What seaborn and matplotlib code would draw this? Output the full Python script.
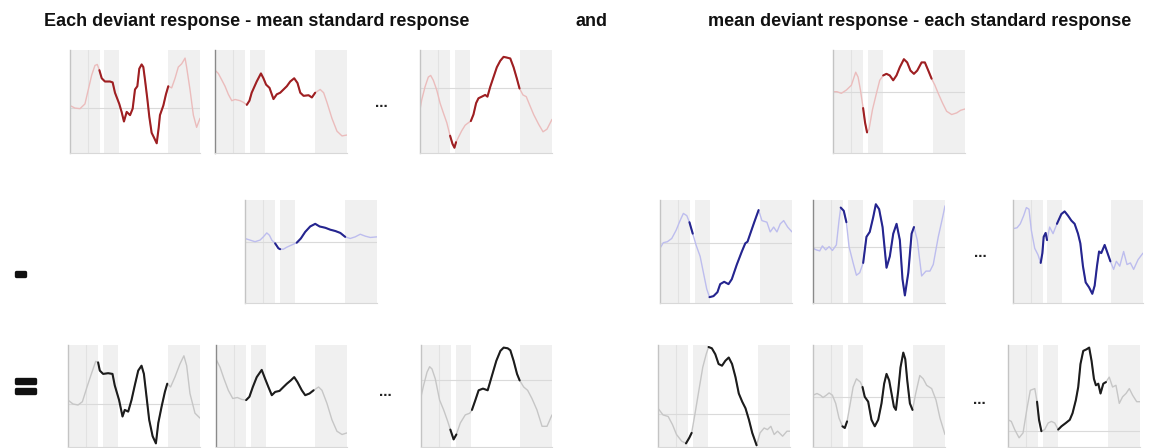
import matplotlib
matplotlib.use("Agg")
import matplotlib.pyplot as plt
import matplotlib.patheffects as pe
import seaborn as sns
import pandas as pd
import numpy as np

# ---------------- data (time in % of epoch, amplitude in % of panel range) ----------------
dev1_t = [0,3.8,7.7,11.5,14.1,16.7,19.2,21,22.6,24.4,26.9,30.8,32.8,34.6,37.9,39.7,41.5,43.6,46.2,48.2,50,51.8,53.3,55.1,56.4,57.7,59.5,61,62.8,64.6,66.7,68.2,69.2,71.8,73.8,75.6,78.2,80.8,83.3,85.9,88.5,89.7,92.3,94.9,97.4,100]
dev1_v = [46,43.5,42.9,47.6,61.9,76.2,85.7,86.7,81,73,69.8,69.8,68.9,58.7,47.6,39.7,30.2,39.7,36.5,42.9,61.9,65.1,82.5,86.7,84.1,71.4,52.4,34.9,19,14.3,8.6,23.8,36.5,46,57.1,65.1,63.5,73,84.1,87.3,93,84.1,61.9,36.5,24.4,33.3]
dev1_win = [(22.6, 75.6)]

dev2_t = [0,2.5,5.1,7.6,10.1,12.7,15.2,19,21.5,24.1,26.1,27.8,31.6,34.8,36.7,38.7,41.3,44.3,46.8,49.4,51.9,54.4,57,60,62.5,64.6,67.1,70.9,73.4,75.9,79.7,82.3,84.8,88.6,92.4,96.2,100]
dev2_v = [81,77.8,71.4,65.1,57.1,50.8,52,50.8,49.2,46.7,50.8,58.7,69.8,77.8,73,66.7,63.5,52.4,57.1,58.7,61.9,65.1,69.8,73,68.3,58.7,55.6,56.2,54,58.7,61.9,58.7,49.2,33.3,20.6,15.9,16.8]
dev2_win = [(24.0, 76.0)]

dev3_t = [0,1.3,3.8,6.3,8.1,10.1,12.7,15.2,17.7,20.3,22.8,24.6,26.1,27.3,29.1,31.6,34.2,36.7,38.5,40.5,42.5,44.3,46.8,49.4,51.1,53.2,55.7,58.2,60.8,63.3,65.8,68.4,70.9,73.4,75.4,78,80.5,83,86.1,89.9,93.2,96.2,100]
dev3_v = [41.9,51.6,64.5,74.2,75.8,71,61.3,48.4,38.7,29,16.1,8.1,4.2,9.7,14.5,21,26.5,29,30.6,37.1,48.4,53.2,54.8,56.5,54.8,64.5,74.2,83.9,90.3,94.2,93.5,92.6,83.9,72.6,62.9,56.5,54.8,46.8,37.1,27.4,20,22.6,32.3]
dev3_win = [(22.8, 27.3), (38.5, 75.4)]

devm_t = [0,3,6.3,10.1,13.9,17.2,19,20.8,22.8,24.3,25.8,27.3,29.9,32.9,35.4,38,40.5,43,45.6,48.1,50.6,53.7,56.2,58.7,61.3,63.8,67.1,69.6,72.2,74.7,77.2,79.7,83,86.1,89.9,93.7,96.7,100]
devm_v = [59.7,59.7,58.1,61.3,66.1,79,74.2,61.3,43.5,29,19.4,22.6,41.9,58.1,71,75.8,77.4,75.8,71,75.8,83.9,91.9,88.7,80.6,77.4,80.6,88.7,88.7,80.6,72.6,66.1,58.1,48.4,40.3,37.1,38.7,41.3,42.6]
devm_win = [(22.8, 25.8), (38.0, 74.7)]

stdm_t = [0,3.8,7.6,11.4,13.9,16.5,18.5,20.3,22.8,25.3,26.6,29.1,31.6,35.4,39.2,42.3,45.6,49.4,53.2,56.5,60.8,64.6,68.4,72.2,75.9,79.7,83.5,87.3,91.1,94.9,100]
stdm_v = [62.9,61.3,59.7,61.3,64.5,68.4,66.1,61.3,58.1,53.2,52.3,52.3,54.2,56.5,58.7,62.9,69.4,74.8,77.4,74.8,73.5,71.6,70.3,68.4,64.5,62.9,64.5,67.1,65.2,63.9,64.5]
stdm_win = [(22.8, 26.6), (39.2, 75.9)]

std1_t = [0,2.5,5.6,8.9,12.2,15.2,17.7,20.3,22.3,24.8,27.3,30.4,32.9,35.4,37.5,40.5,43.5,45.6,48.6,51.9,54.4,58.2,62,64.6,66.3,68.4,71.4,74.7,77.2,81,83.5,86.1,88.6,91.1,93.7,96.7,100]
std1_v = [53.2,58.7,59.7,62.9,71,80.6,87.7,85.5,79,67.7,56.5,45.2,29,12.9,4.8,5.8,9.7,17.7,20,17.7,22.6,37.1,50,58.1,59.7,67.7,79,91,80.6,79,69.4,74.2,69.4,77.4,80.6,74.2,69.4]
std1_win = [(22.3, 24.8), (37.5, 74.7)]

std2_t = [0,2.5,5.1,7.1,9.6,12.2,14.7,17.7,19.7,21,23.3,25.3,27.3,30.4,32.9,35.4,38,40.5,43,45.6,47.6,50.1,52.7,55.7,58.2,60.8,63.3,65.8,67.8,69.6,72.2,74.7,76.5,79,82.3,85.6,88.6,91.1,94.9,98.2,100]
std2_v = [53.2,51.6,50.6,55.5,51.6,54.8,51,56.5,80.6,93.5,90.3,79,54.8,38.7,26.5,29,38.7,64.5,69.4,83.9,96.8,91.9,74.2,33.9,45.2,67.7,77.4,61.3,22.6,6.5,29,67.7,74.2,61.3,25.8,30.6,30.6,37.1,64.5,83.9,95.2]
std2_win = [(21.0, 26.0), (38.0, 76.5)]

std3_t = [0,3.1,5.6,8.2,10.3,12.3,14.1,16.7,19.2,21.3,22.6,23.6,25.1,26.2,28.2,30.8,33.8,37.2,39.7,42.3,44.9,47.4,50,51.8,53.8,55.9,58.5,61,62.8,64.6,66.2,67.9,70.5,72.3,74.9,77.4,79.5,82.1,85.1,87.7,90.3,92.8,96.2,100]
std3_v = [72.6,73.5,77.4,85.5,93.5,91.9,71,53.2,46.8,38.7,48.4,64.5,68.4,61.3,74.2,67.7,77.4,87.1,89.7,85.5,80.6,77.4,67.7,58.1,35.5,19.4,14.5,8.1,16.1,35.5,50,48.4,56.5,50,40.3,32.3,40.3,35.5,50,37.1,38.7,32.3,41.9,48.4]
std3_win = [(21.3, 26.2), (33.8, 74.9)]

dif1_t = [0,3.8,7.6,10.9,14.4,17.7,21,22.8,24.1,26.6,30.4,33.7,35.4,38.7,41.3,43,45.6,48.1,50.6,53.2,55.7,57.5,59.5,61.5,64.1,66.6,68.4,70.9,73.4,75.2,77.7,81,84.8,87.8,89.9,92.4,96.2,100]
dif1_v = [45.9,42,41,44.3,59,72.1,84.6,83.6,75.4,72.1,72.8,72.1,60.7,45.9,29.5,36.1,34.4,45.9,60.7,75.4,80.3,72.1,49.2,26.2,9.8,2.6,23,39.3,54.1,62.3,59,68.9,82,90.2,80.3,52.5,32.8,27.9]
dif1_win = [(22.8, 75.2)]

dif2_t = [0,3.1,6.1,9.4,12.8,16.3,19.6,23,25.5,28.1,31.1,34.9,37.5,40,42.6,45.2,48.5,51.5,54.1,57.1,59.7,62.2,65.5,68.1,71.4,74.5,78.3,80.9,84.7,88.5,92.3,96.2,100]
dif2_v = [86.9,78.7,67.2,55.7,47.5,48.5,46.6,45.9,49.2,59,68.9,76.1,67.2,59,50.8,54.1,55.1,59,62.3,65.6,68.9,63.9,55.7,50.8,52.5,55.7,59,55.7,42.6,26.2,14.8,11.5,13.1]
dif2_win = [(23.0, 74.5)]

dif3_t = [0,2,4.6,6.6,8.4,10.9,14.2,17.3,20.4,22.4,24.9,27,30,33.8,37.2,38.9,41.5,44,47.3,50.9,54.2,57.5,60.6,63.1,66.2,68.2,70.7,73.3,75.3,78.4,81.4,84.7,88.5,92.4,96.2,100]
dif3_v = [49.2,60.7,73.8,79.3,77,67.2,45.9,36.1,24.6,16.4,6.6,11.5,23,31.1,32.8,36.1,45.9,55.7,57.4,55.7,70.5,85.2,95.1,98.4,97.7,95.7,85.2,72.1,65.6,59,55.7,47.5,36.1,19.7,19.7,31.1]
dif3_win = [(22.4, 27.0), (38.9, 75.3)]

difr1_t = [0,3.8,7.7,11,14,17.9,21.2,23.7,25.5,28.1,31.4,33.9,36.5,38.3,40.8,43.4,45.9,48.5,51,53.6,56.1,58.7,61.2,63.8,66.3,68.9,71.4,74.7,77.3,80.4,82.9,85.5,88,90.6,94.4,97.7,100]
difr1_v = [37.7,31.1,29.5,21.3,11.5,4.9,2.6,8.2,13.1,32.8,59,78.7,91.8,99,97.7,91.8,82,80.3,85.2,88.5,82,68.9,52.5,44.3,37.7,26.2,13.1,0.7,13.1,18,16.4,19.7,11.5,14.8,9.8,14.8,14.8]
difr1_win = [(21.2, 25.5), (38.3, 74.7)]

difr2_t = [0,3,5.6,7.6,10.1,12.2,14.7,17.2,19.7,22.3,24.1,25.8,27.8,30.4,32.9,35.9,37.5,39.2,41.8,44.3,46.8,49.4,51.9,53.9,55.7,57.7,59.5,61.3,62.8,64.6,66.3,68.4,69.9,71.4,73.4,75.4,77.8,80.9,83.5,86.1,89.9,93.2,96.2,100]
difr2_v = [50.8,52.5,50.8,48.5,50.8,53.1,50.8,42.6,27.9,19.7,18,24.6,39.3,59,67.2,63.9,59,49.2,44.3,26.2,19.7,26.2,42.6,62.3,72.1,65.6,52.5,39.3,36.1,55.7,78.7,93.4,86.9,65.6,42.6,36.1,52.5,70.5,67.2,60.7,57.4,45.9,27.9,11.5]
difr2_win = [(22.3, 25.8), (37.5, 75.4)]

difr3_t = [0,2.5,5.1,8.4,11.4,14.4,16.9,20.3,22,23.5,25.3,27.8,30.4,32.9,35.4,38,40.5,43.8,46.8,48.9,51.4,53.2,54.9,57,59.5,61.5,63.3,65.1,66.6,68.4,70.1,72.2,74.2,76.7,79.2,81.8,84.3,86.8,89.4,91.9,94.4,97.5,100]
difr3_v = [26.2,24.6,16.4,8.2,13.1,37.7,55.7,57.4,44.3,26.2,14.8,16.4,23,24.6,23,16.4,19.7,23,26.2,32.8,45.9,59,82,95.1,96.7,98.4,85.2,67.2,60.7,62.3,52.5,62.3,63.9,68.9,59,60.7,42.6,49.2,52.5,57.4,50.8,44.3,44.3]
difr3_win = [(22.0, 25.3), (38.0, 74.2)]

# baselines (zero level), None = not visible
baselines = {"dev1": 43.8, "dev2": None, "dev3": 62.9, "devm": 59.7,
             "stdm": 59.7, "std1": 58.7, "std2": 54.8, "std3": None,
             "dif1": 42.0, "dif2": None, "dif3": 65.6,
             "difr1": 32.1, "difr2": 49.2, "difr3": 14.8}

# shaded analysis windows (time %)
shade_windows = [(0, 22.7), (26.5, 38.0), (75.6, 100)]
shade_marker = 13.8

titles = ["Each deviant response - mean standard response", "and",
          "mean deviant response - each standard response"]

# ---------------- styling ----------------
W, H = 1173, 448
sns.set_theme(style="white")
plt.rcParams['font.family'] = ['Liberation Sans', 'DejaVu Sans']

RED = ("#9e1f22", "#ebbcbc")
BLUE = ("#25258f", "#bdbdee")
BLACK = ("#1c1c1c", "#c6c6c6")

fig = plt.figure(figsize=(W / 100, H / 100), dpi=100)

def px_axes(x0, y0, x1, y1):
    return fig.add_axes([x0 / W, 1 - y1 / H, (x1 - x0) / W, (y1 - y0) / H])

def panel(rect, t, v, win, base, colors, left_col="#c4c4c4"):
    ax = px_axes(*rect)
    for a, b in shade_windows:
        ax.axvspan(a, b, color="#f0f0f0", lw=0, zorder=0)
    ax.axvline(shade_marker, color="#e2e2e2", lw=0.8, zorder=0.5)
    if base is not None:
        ax.axhline(base, color="#dadada", lw=0.8, zorder=0.6)
    df = pd.DataFrame({"t": t, "v": v})
    sns.lineplot(data=df, x="t", y="v", ax=ax, color=colors[1], lw=1.0,
                 estimator=None, sort=False, zorder=2)
    for a, b in win:
        seg = df[(df.t >= a - 1e-6) & (df.t <= b + 1e-6)]
        sns.lineplot(data=seg, x="t", y="v", ax=ax, color=colors[0], lw=1.5,
                     estimator=None, sort=False, zorder=3)
    ax.set_xlim(0, 100)
    ax.set_ylim(-1, 101)
    ax.set_xticks([]); ax.set_yticks([])
    ax.set_xlabel(""); ax.set_ylabel("")
    ax.patch.set_alpha(0)
    for s in ("top", "right"):
        ax.spines[s].set_visible(False)
    ax.spines["left"].set_color(left_col)
    ax.spines["left"].set_linewidth(1.0)
    ax.spines["bottom"].set_color("#d8d8d8")
    ax.spines["bottom"].set_linewidth(0.8)
    return ax

# row 1 (deviants, red)
panel((70, 50, 200, 153), dev1_t, dev1_v, dev1_win, baselines["dev1"], RED)
panel((215, 50, 347, 153), dev2_t, dev2_v, dev2_win, baselines["dev2"], RED, "#8a8a8a")
panel((420, 50, 552, 153), dev3_t, dev3_v, dev3_win, baselines["dev3"], RED)
panel((833, 50, 965, 153), devm_t, devm_v, devm_win, baselines["devm"], RED)

# row 2 (standards, blue)
panel((245, 200, 377, 303), stdm_t, stdm_v, stdm_win, baselines["stdm"], BLUE)
panel((660, 200, 792, 303), std1_t, std1_v, std1_win, baselines["std1"], BLUE)
panel((813, 200, 945, 303), std2_t, std2_v, std2_win, baselines["std2"], BLUE, "#8a8a8a")
panel((1013, 200, 1143, 303), std3_t, std3_v, std3_win, baselines["std3"], BLUE)

# row 3 (differences, black)
panel((68, 345, 200, 447), dif1_t, dif1_v, dif1_win, baselines["dif1"], BLACK)
panel((216, 345, 347, 447), dif2_t, dif2_v, dif2_win, baselines["dif2"], BLACK, "#8a8a8a")
panel((421, 345, 552, 447), dif3_t, dif3_v, dif3_win, baselines["dif3"], BLACK)
panel((658, 345, 790, 447), difr1_t, difr1_v, difr1_win, baselines["difr1"], BLACK)
panel((813, 345, 945, 447), difr2_t, difr2_v, difr2_win, baselines["difr2"], BLACK)
panel((1008, 345, 1140, 447), difr3_t, difr3_v, difr3_win, baselines["difr3"], BLACK)

def ftext(x, y, s, **kw):
    fig.text(x / W, 1 - y / H, s, ha="center", va="center", **kw)

ftext(257, 21, titles[0], fontsize=13, fontweight="bold", color="#111111")
ftext(591, 21, titles[1], fontsize=13, fontweight="bold", color="#111111")
ftext(920, 21, titles[2], fontsize=13, fontweight="bold", color="#111111")

for (x, y) in [(381, 103), (980, 253), (385, 392), (979, 400)]:
    ftext(x, y, "...", fontsize=11, fontweight="bold", color="#222222")

thick = [pe.withStroke(linewidth=2.4, foreground="#111111")]
ftext(20.5, 274, "-", fontsize=28, fontweight="bold", color="#111111", path_effects=thick)
ftext(25.5, 389, "=", fontsize=28, fontweight="bold", color="#111111", path_effects=thick)

fig.savefig("out.png", dpi=100, facecolor="white")
